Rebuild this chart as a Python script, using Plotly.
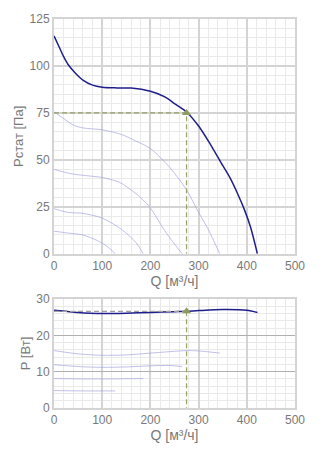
import plotly.graph_objects as go

# Fan performance: static pressure vs. airflow, and power draw vs. airflow
q_main = [0, 10, 20, 30, 45, 60, 80, 100, 130, 160, 200, 230, 250, 275, 300, 325, 350, 365, 380, 395, 408, 422]
p_main = [116, 110.5, 105, 100.5, 96, 92.5, 89.8, 88.7, 88.3, 88.2, 86.5, 83.5, 80, 75.5, 68, 58, 47, 40.5, 32.5, 23.5, 14, 0]

# Reduced-speed pressure curves
q_s2 = [0, 20, 40, 60, 80, 100, 140, 170, 200, 240, 275, 300, 320, 344]
p_s2 = [75.5, 72, 68.5, 67, 66.5, 66, 63.5, 60, 56, 46, 34, 22, 13, 0]
q_s3 = [0, 20, 40, 70, 100, 136, 170, 198, 233, 266]
p_s3 = [45, 43.5, 42.4, 41.5, 40.6, 38, 32, 25, 11, 0]
q_s4 = [0, 30, 60, 100, 140, 170, 185]
p_s4 = [24, 22, 21.5, 19, 13, 6, 0]
q_s5 = [0, 30, 60, 90, 110, 127]
p_s5 = [12, 11, 10, 7, 4, 0]

# Power curves
w_q_main = [0, 25, 50, 75, 100, 150, 200, 250, 275, 300, 350, 400, 422]
w_main = [26.9, 26.6, 26.3, 26.1, 26.0, 26.1, 26.3, 26.5, 26.6, 26.8, 27.1, 26.9, 26.3]
w_q_s2 = [0, 50, 100, 150, 200, 250, 275, 300, 344]
w_s2 = [15.8, 14.9, 14.5, 14.6, 15.1, 15.6, 15.8, 15.7, 15.1]
w_q_s3 = [0, 50, 100, 150, 200, 240, 266]
w_s3 = [11.9, 11.4, 11.2, 11.3, 11.6, 11.7, 11.4]
w_q_s4 = [0, 60, 120, 185]
w_s4 = [8.1, 8.0, 8.0, 8.1]
w_q_s5 = [0, 60, 127]
w_s5 = [4.8, 4.7, 4.7]

# Operating point
op_q = 275
op_p = 75
op_w = 26.6

MAIN = "rgb(30,30,140)"
LIGHT = "rgba(150,150,220,0.6)"
OLIVE = "rgb(150,160,105)"
MARK = "rgb(140,155,95)"
GRID = "rgb(212,212,212)"
MINOR = "rgb(234,234,234)"
HGRID2 = "rgb(175,175,175)"
TXT = "rgb(120,120,120)"
FONT = "Liberation Sans, Arial, sans-serif"

fig = go.Figure()

for qq, pp in [(q_s2, p_s2), (q_s3, p_s3), (q_s4, p_s4), (q_s5, p_s5)]:
    fig.add_trace(go.Scatter(x=qq, y=pp, mode="lines",
                             line=dict(color=LIGHT, width=1, shape="spline", smoothing=0.8),
                             xaxis="x", yaxis="y", hoverinfo="skip"))
fig.add_trace(go.Scatter(x=q_main, y=p_main, mode="lines",
                         line=dict(color=MAIN, width=1.5, shape="spline", smoothing=0.8),
                         xaxis="x", yaxis="y"))
fig.add_trace(go.Scatter(x=[0, op_q, op_q], y=[op_p, op_p, 0], mode="lines",
                         line=dict(color=OLIVE, width=1.2, dash="5px,3px"), xaxis="x", yaxis="y"))
fig.add_trace(go.Scatter(x=[op_q], y=[op_p], mode="markers",
                         marker=dict(symbol="triangle-up", size=8, color=MARK), xaxis="x", yaxis="y"))

for qq, ww in [(w_q_s2, w_s2), (w_q_s3, w_s3), (w_q_s4, w_s4), (w_q_s5, w_s5)]:
    fig.add_trace(go.Scatter(x=qq, y=ww, mode="lines",
                             line=dict(color=LIGHT, width=1, shape="spline", smoothing=0.8),
                             xaxis="x2", yaxis="y2", hoverinfo="skip"))
fig.add_trace(go.Scatter(x=w_q_main, y=w_main, mode="lines",
                         line=dict(color=MAIN, width=1.5, shape="spline", smoothing=0.8),
                         xaxis="x2", yaxis="y2"))
fig.add_trace(go.Scatter(x=[0, op_q], y=[op_w, op_w], mode="lines",
                         line=dict(color="rgb(160,160,160)", width=1.2, dash="5px,3px"),
                         xaxis="x2", yaxis="y2"))
fig.add_trace(go.Scatter(x=[op_q, op_q], y=[op_w, 0], mode="lines",
                         line=dict(color=OLIVE, width=1.2, dash="5px,3px"), xaxis="x2", yaxis="y2"))
fig.add_trace(go.Scatter(x=[op_q], y=[op_w], mode="markers",
                         marker=dict(symbol="triangle-up", size=8, color=MARK), xaxis="x2", yaxis="y2"))


def xax(anchor):
    return dict(range=[0, 500], dtick=100, tick0=0, showgrid=True, gridcolor=GRID, gridwidth=2,
                minor=dict(dtick=20, showgrid=True, gridcolor=MINOR, gridwidth=1),
                showline=True, mirror=True, linecolor=GRID, linewidth=2, zeroline=False,
                ticks="", tickfont=dict(size=12, color=TXT, family=FONT), anchor=anchor,
                title=dict(text="Q [м³/ч]", font=dict(size=14, color=TXT, family=FONT), standoff=1),
                fixedrange=True)


def yax(rng, dt, mdt, domain, title, anchor, gcol, gw):
    return dict(range=rng, dtick=dt, tick0=0, domain=domain, showgrid=True, gridcolor=gcol, gridwidth=gw,
                minor=dict(dtick=mdt, showgrid=True, gridcolor=MINOR, gridwidth=1),
                showline=True, mirror=True, linecolor=GRID, linewidth=2, zeroline=False,
                ticks="", tickfont=dict(size=12, color=TXT, family=FONT), anchor=anchor,
                title=dict(text=title, font=dict(size=13, color=TXT, family=FONT), standoff=3),
                fixedrange=True)


fig.update_layout(
    width=328, height=452,
    margin=dict(l=54, r=33, t=12, b=44),
    paper_bgcolor="white", plot_bgcolor="white",
    showlegend=False,
    xaxis=xax("y"),
    yaxis=yax([0, 125], 25, 5, [0.3965, 1.0], "Рстат [Па]", "x", GRID, 2),
    xaxis2=xax("y2"),
    yaxis2=yax([0, 30], 10, 2, [0.0, 0.2803], "P [Вт]", "x2", HGRID2, 1),
)

fig.write_html("out.html")
